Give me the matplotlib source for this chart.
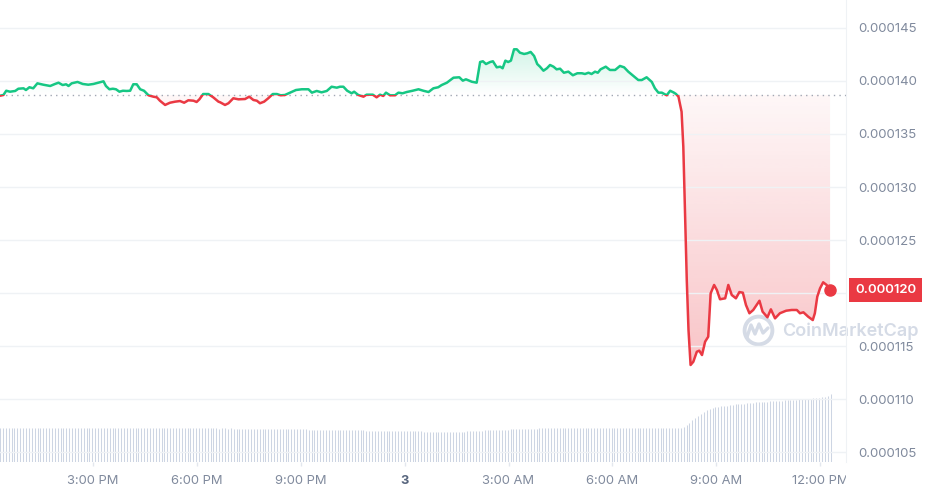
import numpy as np
import matplotlib.pyplot as plt
from matplotlib.patches import Rectangle
from matplotlib.path import Path
from matplotlib.lines import Line2D
from matplotlib.colors import to_rgb

plt.rcParams['font.family'] = ['Inter', 'DejaVu Sans']

# time in hours from midnight of day "3", price in millionths of a dollar
hours = [-11.69, -11.59, -11.51, -11.40, -11.25, -11.16, -11.01, -10.94, -10.84, -10.73,
         -10.61, -10.44, -10.24, -10.10, -10.00, -9.88, -9.78, -9.71, -9.62, -9.45,
         -9.30, -9.14, -8.99, -8.85, -8.70, -8.63, -8.53, -8.43, -8.34, -8.24,
         -8.14, -8.03, -7.93, -7.84, -7.74, -7.64, -7.53, -7.40, -7.26, -7.16,
         -7.07, -6.92, -6.78, -6.63, -6.49, -6.37, -6.25, -6.10, -6.01, -5.93,
         -5.82, -5.67, -5.53, -5.38, -5.33, -5.19, -5.09, -4.95, -4.80, -4.61,
         -4.49, -4.37, -4.27, -4.18, -4.06, -3.94, -3.81, -3.69, -3.58, -3.46,
         -3.31, -3.14, -2.97, -2.78, -2.68, -2.54, -2.40, -2.25, -2.11, -1.96,
         -1.87, -1.77, -1.66, -1.53, -1.46, -1.34, -1.19, -1.10, -0.92, -0.81,
         -0.71, -0.62, -0.54, -0.42, -0.28, -0.18, -0.06, 0.06, 0.23, 0.40,
         0.54, 0.69, 0.83, 0.97, 1.07, 1.22, 1.41, 1.58, 1.68, 1.77,
         1.94, 2.08, 2.18, 2.26, 2.35, 2.47, 2.55, 2.66, 2.76, 2.83,
         2.91, 2.99, 3.07, 3.16, 3.24, 3.33, 3.45, 3.54, 3.64, 3.74,
         3.83, 3.91, 4.01, 4.11, 4.20, 4.30, 4.39, 4.49, 4.60, 4.73,
         4.86, 4.99, 5.12, 5.21, 5.31, 5.40, 5.50, 5.58, 5.66, 5.81,
         5.93, 6.08, 6.22, 6.34, 6.46, 6.61, 6.75, 6.85, 6.99, 7.14,
         7.23, 7.33, 7.43, 7.57, 7.67, 7.78, 7.84, 7.91, 8.00, 8.05,
         8.10, 8.15, 8.20, 8.26, 8.34, 8.44, 8.51, 8.59, 8.68, 8.77,
         8.84, 8.94, 9.02, 9.11, 9.26, 9.35, 9.45, 9.57, 9.67, 9.77,
         9.86, 9.96, 10.07, 10.25, 10.34, 10.48, 10.58, 10.70, 10.84, 11.02,
         11.18, 11.33, 11.42, 11.52, 11.66, 11.79, 11.85, 11.92, 12.00, 12.09,
         12.19, 12.29]
price_u = [138.61, 138.68, 139.08, 138.99, 139.06, 139.27, 139.31, 139.15, 139.41, 139.31,
           139.78, 139.65, 139.53, 139.72, 139.84, 139.62, 139.69, 139.53, 139.78, 139.91,
           139.72, 139.65, 139.72, 139.84, 139.97, 139.53, 139.22, 139.27, 139.22, 138.99,
           139.08, 139.06, 139.08, 139.69, 139.69, 139.22, 139.08, 138.65, 138.52, 138.46,
           138.14, 137.74, 137.95, 138.05, 138.11, 137.95, 138.18, 138.14, 138.02, 138.27,
           138.77, 138.77, 138.46, 138.05, 137.99, 137.74, 137.90, 138.37, 138.27, 138.30,
           138.52, 138.21, 138.14, 137.90, 138.05, 138.37, 138.77, 138.77, 138.65, 138.68,
           138.90, 139.15, 139.22, 139.22, 138.90, 139.06, 138.93, 139.06, 139.46, 139.37,
           139.46, 139.46, 139.08, 138.84, 138.99, 138.68, 138.52, 138.71, 138.71, 138.46,
           138.71, 138.59, 138.90, 138.65, 138.65, 138.90, 138.84, 138.96, 139.08, 139.22,
           139.08, 138.96, 139.31, 139.41, 139.62, 139.84, 140.31, 140.35, 140.03, 140.16,
           139.93, 139.84, 141.79, 141.86, 141.60, 141.79, 141.86, 141.29, 141.35, 141.20,
           141.92, 141.79, 141.92, 142.99, 142.99, 142.67, 142.55, 142.61, 142.74, 142.36,
           141.60, 141.35, 140.97, 141.20, 141.51, 141.35, 141.10, 141.16, 140.78, 140.88,
           140.54, 140.73, 140.73, 140.66, 140.78, 140.66, 140.88, 140.78, 141.10, 141.35,
           141.04, 141.04, 141.42, 141.29, 140.88, 140.47, 140.09, 140.09, 140.35, 139.91,
           139.31, 138.90, 138.90, 138.65, 139.08, 138.90, 138.77, 138.52, 137.10, 133.80,
           127.55, 121.23, 116.51, 113.21, 113.52, 114.46, 114.56, 114.15, 115.41, 115.88,
           119.97, 120.76, 120.28, 119.41, 119.50, 120.76, 119.81, 119.50, 120.09, 120.03,
           118.87, 118.09, 118.40, 119.27, 118.24, 117.71, 118.46, 117.61, 118.09, 118.33,
           118.40, 118.40, 118.09, 118.18, 117.76, 117.45, 118.09, 119.65, 120.44, 121.01,
           120.76, 120.28]
open_u = 138.68

# 5 minute volume bars (arbitrary units)
vol_start = -11.69
volume = [3.43, 3.43, 3.42, 3.44, 3.43, 3.42, 3.43, 3.43, 3.42, 3.43, 3.42, 3.42,
          3.42, 3.43, 3.42, 3.42, 3.41, 3.42, 3.42, 3.43, 3.42, 3.41, 3.42, 3.42,
          3.41, 3.42, 3.41, 3.42, 3.42, 3.41, 3.41, 3.42, 3.41, 3.41, 3.42, 3.41,
          3.41, 3.41, 3.40, 3.41, 3.41, 3.40, 3.41, 3.41, 3.40, 3.40, 3.41, 3.40,
          3.40, 3.40, 3.41, 3.40, 3.39, 3.40, 3.40, 3.39, 3.40, 3.40, 3.39, 3.39,
          3.39, 3.40, 3.39, 3.39, 3.39, 3.38, 3.39, 3.39, 3.38, 3.39, 3.38, 3.38,
          3.38, 3.39, 3.38, 3.38, 3.37, 3.38, 3.38, 3.37, 3.38, 3.37, 3.37, 3.37,
          3.37, 3.37, 3.36, 3.37, 3.36, 3.36, 3.36, 3.35, 3.36, 3.35, 3.35, 3.34,
          3.34, 3.33, 3.33, 3.32, 3.31, 3.31, 3.30, 3.29, 3.29, 3.28, 3.28, 3.27,
          3.27, 3.26, 3.26, 3.25, 3.25, 3.24, 3.24, 3.23, 3.23, 3.22, 3.22, 3.21,
          3.21, 3.20, 3.20, 3.19, 3.19, 3.18, 3.18, 3.17, 3.17, 3.16, 3.16, 3.15,
          3.15, 3.14, 3.14, 3.13, 3.13, 3.12, 3.12, 3.11, 3.11, 3.10, 3.10, 3.09,
          3.09, 3.08, 3.08, 3.07, 3.07, 3.07, 3.06, 3.06, 3.05, 3.05, 3.04, 3.04,
          3.03, 3.03, 3.02, 3.02, 3.04, 3.07, 3.09, 3.11, 3.13, 3.14, 3.16, 3.17,
          3.18, 3.19, 3.21, 3.22, 3.23, 3.24, 3.25, 3.26, 3.27, 3.28, 3.29, 3.30,
          3.31, 3.32, 3.33, 3.34, 3.35, 3.36, 3.37, 3.38, 3.39, 3.40, 3.40, 3.41,
          3.41, 3.41, 3.42, 3.42, 3.42, 3.42, 3.42, 3.43, 3.42, 3.42, 3.42, 3.43,
          3.42, 3.42, 3.43, 3.42, 3.42, 3.43, 3.42, 3.42, 3.42, 3.43, 3.42, 3.42,
          3.42, 3.43, 3.42, 3.42, 3.42, 3.43, 3.42, 3.42, 3.43, 3.42, 3.42, 3.42,
          3.42, 3.42, 3.43, 3.42, 3.42, 3.42, 3.42, 3.43, 3.45, 3.55, 3.70, 3.90,
          4.20, 4.45, 4.68, 4.88, 5.05, 5.20, 5.32, 5.42, 5.50, 5.56, 5.61, 5.65,
          5.69, 5.73, 5.77, 5.80, 5.84, 5.87, 5.90, 5.93, 5.96, 5.99, 6.01, 6.03,
          6.05, 6.07, 6.09, 6.11, 6.14, 6.16, 6.18, 6.20, 6.22, 6.24, 6.26, 6.28,
          6.30, 6.32, 6.34, 6.36, 6.38, 6.40, 6.43, 6.46, 6.49, 6.52, 6.58, 6.68,
          6.84]

price_ticks_u = [105, 110, 115, 120, 125, 130, 135, 140, 145]
x_ticks = [-9, -6, -3, 0, 3, 6, 9, 12]
x_labels = ['3:00 PM', '6:00 PM', '9:00 PM', '3', '3:00 AM', '6:00 AM', '9:00 AM', '12:00 PM']

GREEN = '#16c784'
RED = '#ea3943'
GRID = '#eff2f5'
TXT = '#808a9d'

hours = np.array(hours)
price = np.array(price_u) * 1e-6
base = open_u * 1e-6
vol_t = vol_start + np.arange(len(volume)) * 5 / 60

fig = plt.figure(figsize=(9.28, 4.95), dpi=100)
rect = [0, 33 / 495, 846 / 928, 462 / 495]
axv = fig.add_axes(rect, zorder=0)
ax = fig.add_axes(rect, zorder=1)
ax.patch.set_alpha(0)

xmin, xmax = -11.69, 12.75
ymin, ymax = 104.06e-6, 147.64e-6

# volume bars
axv.vlines(vol_t, 0, volume, color='#cdd5e3', lw=0.75)
axv.set_xlim(xmin, xmax)
axv.set_ylim(0, 46.6)
axv.axis('off')


def gradient_fill(mask, color, lo, hi, a_lo, a_hi):
    coll = ax.fill_between(hours, price, base, where=mask, interpolate=True,
                           facecolor='none', edgecolor='none')
    clip = Path.make_compound_path(*coll.get_paths())
    rgba = np.zeros((256, 1, 4))
    rgba[..., :3] = to_rgb(color)
    rgba[:, 0, 3] = np.linspace(a_lo, a_hi, 256)
    im = ax.imshow(rgba, extent=[hours[0], hours[-1], lo, hi], origin='lower',
                   aspect='auto', zorder=1, interpolation='bilinear')
    im.set_clip_path(clip, ax.transData)


gradient_fill(price >= base, GREEN, base, 143.2e-6, 0.0, 0.2)
gradient_fill(price <= base, RED, 113.0e-6, base, 0.3, 0.04)

ax.axhline(base, color='#a1a7b3', lw=1, ls=(0, (1, 3)), zorder=2)

for color, clip_rect in [
        (GREEN, Rectangle((xmin, base), xmax - xmin, ymax - base, transform=ax.transData)),
        (RED, Rectangle((xmin, ymin), xmax - xmin, base - ymin, transform=ax.transData))]:
    ln, = ax.plot(hours, price, color=color, lw=1.8, zorder=3,
                  solid_joinstyle='round', solid_capstyle='round')
    ln.set_clip_path(clip_rect)

ax.plot(hours[-1], price[-1], 'o', color=RED, ms=8, zorder=4)

ax.set_xlim(xmin, xmax)
ax.set_ylim(ymin, ymax)

ax.yaxis.tick_right()
ax.set_yticks([v * 1e-6 for v in price_ticks_u])
ax.set_yticklabels([f'{v * 1e-6:.6f}' for v in price_ticks_u])
ax.grid(axis='y', color=GRID, lw=1)
ax.tick_params(axis='y', length=0, pad=8.5, labelsize=9.5, labelcolor=TXT)
# the tick label under the current-price tag is hidden by the tag
ax.get_yticklabels()[price_ticks_u.index(120)].set_visible(False)

ax.set_xticks(x_ticks)
ax.set_xticklabels(x_labels)
ax.tick_params(axis='x', length=3, width=1, color='#e3e7ee', pad=6, labelsize=9.3, labelcolor=TXT)
day_lbl = ax.get_xticklabels()[3]
day_lbl.set_fontweight('bold')
day_lbl.set_color('#58667e')
ax.get_xticklabels()[-1].set_clip_path(
    Rectangle((0, 0), 846 / 928, 1, transform=fig.transFigure))

for s in ['top', 'left', 'bottom']:
    ax.spines[s].set_visible(False)
ax.spines['right'].set_color(GRID)

ax.annotate(f'{price[-1]:.6f}', xy=(1, price[-1]), xycoords=('axes fraction', 'data'),
            xytext=(6.5, 0), textcoords='offset points', va='center', ha='left',
            color='white', fontsize=9.5, fontweight='semibold', annotation_clip=False,
            bbox=dict(boxstyle='square,pad=0.45', fc=RED, ec='none'))

# watermark
wm = '#d5dbe6'
fig.text(782 / 928, 1 - 331 / 495, 'CoinMarketCap', fontsize=13, color=wm,
         va='center', ha='left', fontweight='semibold', zorder=0.5)
fig.add_artist(Line2D([758 / 928], [1 - 330 / 495], marker='o', ms=20, mfc='none',
                      mec=wm, mew=2.8, transform=fig.transFigure, zorder=0.5))
wx = np.array([747, 751, 755, 759, 763, 768]) / 928
wy = 1 - np.array([337, 325, 334, 324, 333, 328]) / 495
fig.add_artist(Line2D(wx, wy, color=wm, lw=2.4, transform=fig.transFigure, zorder=0.5,
                      solid_joinstyle='round', solid_capstyle='round'))

fig.savefig('out.png', dpi=100)
